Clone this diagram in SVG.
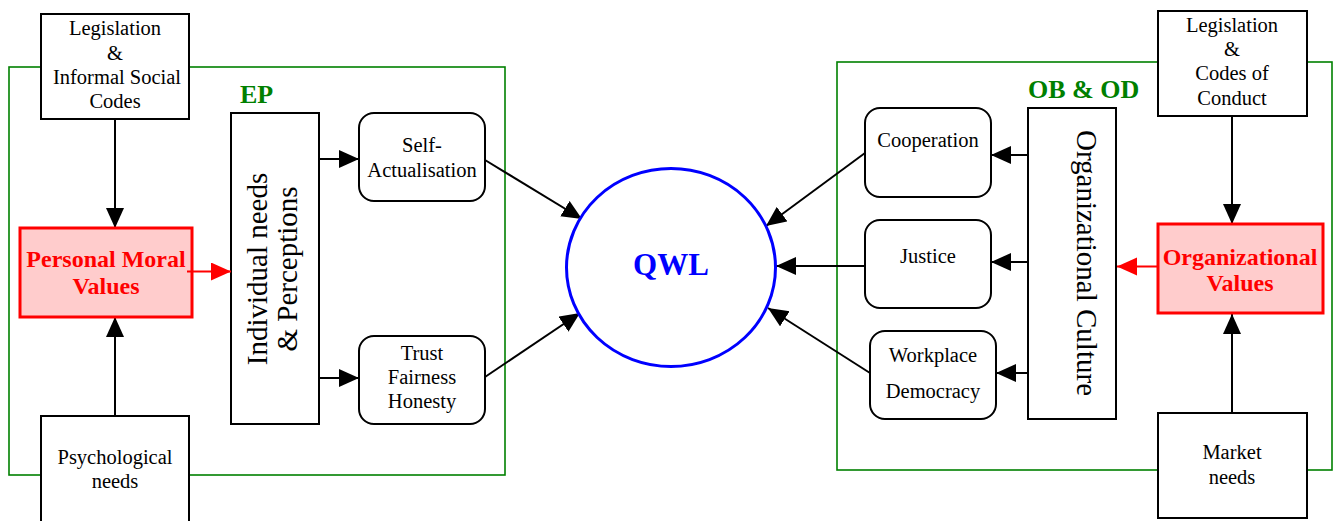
<svg xmlns="http://www.w3.org/2000/svg" width="1337" height="521" viewBox="0 0 1337 521">
  <style>
    text { font-family: "Liberation Serif", "Times New Roman", Times, "DejaVu Serif", serif; }
    .frame { fill: none; stroke: #008000; stroke-width: 1.6; }
    .box { fill: #ffffff; stroke: #000000; stroke-width: 2; }
    .val { fill: #ffcccc; stroke: #ff0000; stroke-width: 3; }
    .t { font-size: 20.5px; fill: #000000; text-anchor: middle; }
    .big { font-size: 29px; fill: #000000; text-anchor: middle; }
    .red { font-size: 24px; font-weight: bold; fill: #ff0000; text-anchor: middle; }
    .grn { font-size: 26px; font-weight: bold; fill: #008000; }
    .qwl { font-size: 31px; font-weight: bold; fill: #0000ff; text-anchor: middle; }
    .edge { stroke: #000000; stroke-width: 2; fill: none; marker-end: url(#ah); }
    .redge { stroke: #ff0000; stroke-width: 2; fill: none; marker-end: url(#rah); }
  </style>
  <defs>
    <marker id="ah" markerUnits="userSpaceOnUse" markerWidth="21" markerHeight="19" refX="20" refY="9" orient="auto">
      <path d="M0,0 L20,9 L0,18 z" fill="#000000"/>
    </marker>
    <marker id="rah" markerUnits="userSpaceOnUse" markerWidth="21" markerHeight="19" refX="20" refY="9" orient="auto">
      <path d="M0,0 L20,9 L0,18 z" fill="#ff0000"/>
    </marker>
  </defs>
  <rect width="1337" height="521" fill="#ffffff"/>

  <!-- group frames -->
  <g id="frame-ep">
    <rect class="frame" x="9" y="67" width="496" height="408"/>
    <text class="grn" x="240" y="103">EP</text>
  </g>
  <g id="frame-obod">
    <rect class="frame" x="837" y="62" width="495" height="408"/>
    <text class="grn" x="1028" y="98">OB &amp; OD</text>
  </g>

  <!-- connectors -->
  <g id="connectors">
    <line class="edge" x1="115" y1="119" x2="115" y2="228"/>
    <line class="edge" x1="115" y1="416" x2="115" y2="317"/>
    <line class="edge" x1="319" y1="159" x2="359" y2="159"/>
    <line class="edge" x1="319" y1="378" x2="359" y2="378"/>
    <line class="edge" x1="485" y1="160" x2="582" y2="219"/>
    <line class="edge" x1="485" y1="377" x2="580" y2="313"/>
    <line class="edge" x1="865" y1="153" x2="766" y2="226"/>
    <line class="edge" x1="865" y1="266" x2="776" y2="266"/>
    <line class="edge" x1="870" y1="373" x2="768" y2="308"/>
    <line class="edge" x1="1028" y1="155" x2="991" y2="155"/>
    <line class="edge" x1="1028" y1="262" x2="991" y2="262"/>
    <line class="edge" x1="1028" y1="373" x2="996" y2="373"/>
    <line class="edge" x1="1232" y1="116" x2="1232" y2="224"/>
    <line class="edge" x1="1232" y1="413" x2="1232" y2="314"/>
  </g>

  <!-- left side -->
  <g id="legislation-social">
    <rect class="box" x="41" y="14" width="148" height="105"/>
    <text class="t" x="115" y="35">Legislation</text>
    <text class="t" x="115" y="60">&amp;</text>
    <text class="t" x="117" y="84">Informal Social</text>
    <text class="t" x="115" y="108">Codes</text>
  </g>
  <g id="personal-moral-values">
    <rect class="val" x="20" y="228" width="172" height="89"/>
    <text class="red" x="106" y="267">Personal Moral</text>
    <text class="red" x="106" y="294">Values</text>
  </g>
  <g id="psychological-needs">
    <rect class="box" x="41" y="416" width="148" height="120"/>
    <text class="t" x="115" y="464">Psychological</text>
    <text class="t" x="115" y="488">needs</text>
  </g>
  <g id="individual-needs">
    <rect class="box" x="231" y="113" width="88" height="311"/>
    <text class="big" transform="translate(267,269) rotate(-90)">Individual needs</text>
    <text class="big" transform="translate(297,269) rotate(-90)">&amp; Perceptions</text>
  </g>
  <g id="self-actualisation">
    <rect class="box" x="359" y="113" width="126" height="88" rx="15"/>
    <text class="t" x="422" y="152">Self-</text>
    <text class="t" x="422" y="177">Actualisation</text>
  </g>
  <g id="trust-fairness-honesty">
    <rect class="box" x="359" y="336" width="126" height="88" rx="15"/>
    <text class="t" x="422" y="360">Trust</text>
    <text class="t" x="422" y="384">Fairness</text>
    <text class="t" x="422" y="408">Honesty</text>
  </g>

  <!-- centre -->
  <g id="qwl">
    <ellipse cx="671" cy="267.5" rx="104.5" ry="99" fill="#ffffff" stroke="#0000ff" stroke-width="3"/>
    <text class="qwl" x="671" y="275">QWL</text>
  </g>

  <!-- right side -->
  <g id="cooperation">
    <rect class="box" x="865" y="108" width="126" height="89" rx="15"/>
    <text class="t" x="928" y="147">Cooperation</text>
  </g>
  <g id="justice">
    <rect class="box" x="865" y="220" width="126" height="88" rx="15"/>
    <text class="t" x="928" y="263">Justice</text>
  </g>
  <g id="workplace-democracy">
    <rect class="box" x="870" y="331" width="126" height="88" rx="15"/>
    <text class="t" x="933" y="362">Workplace</text>
    <text class="t" x="933" y="398">Democracy</text>
  </g>
  <g id="organizational-culture">
    <rect class="box" x="1028" y="108" width="88" height="311"/>
    <text class="big" transform="translate(1077,263) rotate(90)">Organizational Culture</text>
  </g>
  <g id="legislation-codes">
    <rect class="box" x="1158" y="11" width="149" height="105"/>
    <text class="t" x="1232" y="32">Legislation</text>
    <text class="t" x="1232" y="56">&amp;</text>
    <text class="t" x="1232" y="80">Codes of</text>
    <text class="t" x="1232" y="105">Conduct</text>
  </g>
  <g id="organizational-values">
    <rect class="val" x="1158" y="224" width="165" height="89"/>
    <text class="red" x="1240" y="265">Organizational</text>
    <text class="red" x="1240" y="291">Values</text>
  </g>
  <g id="market-needs">
    <rect class="box" x="1158" y="413" width="149" height="105"/>
    <text class="t" x="1232" y="459">Market</text>
    <text class="t" x="1232" y="484">needs</text>
  </g>

  <!-- red links drawn over the value boxes -->
  <g id="value-links">
    <line class="redge" x1="187" y1="271.5" x2="231" y2="271.5"/>
    <line class="redge" x1="1157" y1="266.5" x2="1117" y2="266.5"/>
  </g>
</svg>
